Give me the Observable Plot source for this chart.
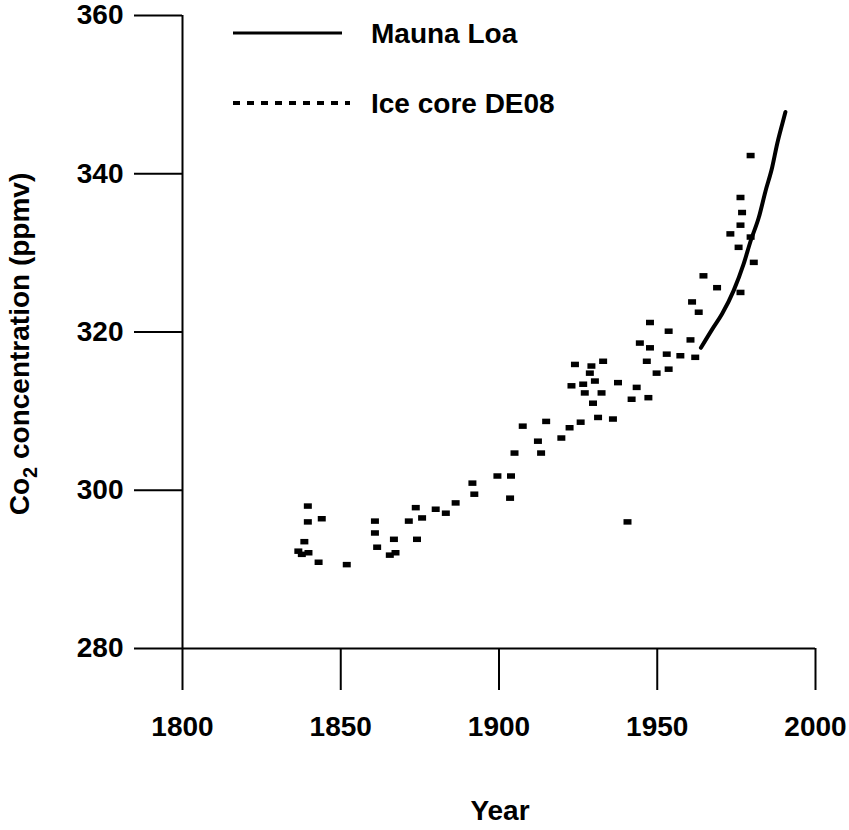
<!DOCTYPE html>
<html>
<head>
<meta charset="utf-8">
<script src="https://cdn.jsdelivr.net/npm/d3@7"></script>
<script src="https://cdn.jsdelivr.net/npm/@observablehq/plot@0.6"></script>
<style>
  html, body { margin: 0; padding: 0; background: #fff; }
  #wrap { position: relative; width: 849px; height: 830px; }
  #wrap svg.plot [aria-label*="axis"] path,
  #wrap svg.plot [aria-label*="axis"] line { stroke-width: 2px; stroke: #000; }
  #legend { position: absolute; left: 0; top: 0; pointer-events: none; }
</style>
</head>
<body>
<div id="wrap"></div>
<script>
// Mauna Loa record (year, ppmv)
const maunaYear = [1963.8, 1967.3, 1970.5, 1974.1, 1977.3, 1979.5, 1982.1, 1984.2, 1986.3, 1987.9, 1989.5, 1990.5];
const maunaPpm  = [318.0, 320.3, 322.3, 325.2, 328.6, 331.5, 334.5, 337.8, 340.8, 343.8, 346.3, 347.8];

// Ice core DE08 samples (year, ppmv)
const iceYear = [1836.6, 1837.7, 1838.5, 1839.6, 1839.6, 1839.8, 1843.0, 1844.0, 1851.9,
  1860.8, 1860.8, 1861.5, 1865.5, 1866.8, 1867.3, 1871.5, 1873.7, 1874.1, 1875.7, 1880.0,
  1883.2, 1886.3, 1891.6, 1892.2, 1899.5, 1903.8, 1903.5, 1904.9, 1907.5, 1912.3, 1913.3,
  1914.9, 1919.7, 1922.3, 1925.8, 1927.1, 1929.7, 1931.3, 1922.9, 1924.0, 1926.6, 1928.7,
  1929.2, 1930.3, 1932.4, 1932.9, 1936.0, 1937.6, 1940.6, 1941.9, 1943.5, 1944.5, 1946.7,
  1947.2, 1947.7, 1947.7, 1949.8, 1953.0, 1953.6, 1953.6, 1957.3, 1960.5, 1961.0, 1962.0,
  1963.1, 1964.6, 1968.9, 1973.1, 1975.7, 1976.3, 1976.8, 1976.3, 1976.3, 1979.5, 1979.5, 1980.5];
const icePpm = [292.3, 291.9, 293.5, 298.0, 296.0, 292.1, 290.9, 296.4, 290.6,
  296.1, 294.6, 292.8, 291.8, 293.8, 292.1, 296.1, 297.8, 293.8, 296.5, 297.6,
  297.1, 298.4, 300.9, 299.5, 301.8, 301.8, 299.0, 304.7, 308.1, 306.2, 304.7,
  308.7, 306.6, 307.9, 308.6, 312.3, 311.0, 309.2, 313.2, 315.9, 313.4, 314.8,
  315.7, 313.8, 312.3, 316.3, 309.0, 313.6, 296.0, 311.5, 313.0, 318.6, 316.3,
  311.7, 321.2, 318.0, 314.8, 317.2, 320.1, 315.3, 317.0, 319.0, 323.8, 316.8,
  322.5, 327.1, 325.6, 332.4, 330.7, 337.0, 335.1, 333.5, 325.0, 332.0, 342.3, 328.8];

const xTicks = [1800, 1850, 1900, 1950, 2000];
const yTicks = [280, 300, 320, 340, 360];
const seriesNames = ["Mauna Loa", "Ice core DE08"];
const xTitle = "Year";

const mauna = maunaYear.map((x, i) => ({year: x, ppm: maunaPpm[i]}));
const ice = iceYear.map((x, i) => ({year: x, ppm: icePpm[i]}));

const dash = { draw(ctx, size) { const w = 8, h = 5.5; ctx.rect(-w / 2, -h / 2, w, h); } };

const chart = Plot.plot({
  width: 849,
  height: 830,
  marginLeft: 182,
  marginRight: 34,
  marginTop: 15,
  marginBottom: 182,
  style: { fontFamily: "'Liberation Sans', Arial, sans-serif", fontSize: "28px", fontWeight: "bold", background: "#fff", color: "#000", overflow: "visible" },
  x: { domain: [1800, 2000], ticks: xTicks, tickFormat: "d", tickSize: 42, tickPadding: 26, label: null },
  y: { domain: [280, 360], ticks: yTicks, tickFormat: "d", tickSize: 48, tickPadding: 11, label: null },
  marks: [
    Plot.ruleX([1800], { stroke: "#000", strokeWidth: 2 }),
    Plot.ruleY([280], { stroke: "#000", strokeWidth: 2 }),
    Plot.dot(ice, { x: "year", y: "ppm", symbol: dash, r: 3, fill: "#000", stroke: "none" }),
    Plot.line(mauna, { x: "year", y: "ppm", stroke: "#000", strokeWidth: 4, curve: "monotone-x" })
  ]
});
chart.classList.add("plot");

const svg = d3.select(chart);
// Axis titles
const yl = svg.append("text")
  .attr("transform", "translate(19,344) rotate(-90)")
  .attr("text-anchor", "middle")
  .attr("dominant-baseline", "central")
  .attr("fill", "#000");
yl.append("tspan").text("Co");
yl.append("tspan").attr("baseline-shift", "sub").attr("font-size", "20px").text("2");
yl.append("tspan").text(" concentration (ppmv)");

svg.append("text")
  .attr("x", 500).attr("y", 820)
  .attr("text-anchor", "middle")
  .attr("fill", "#000")
  .text(xTitle);

document.getElementById("wrap").appendChild(chart);

// Legend overlay
const lg = d3.select("#wrap").append("svg")
  .attr("id", "legend")
  .attr("width", 849).attr("height", 130)
  .style("font-family", "'Liberation Sans', Arial, sans-serif")
  .style("font-size", "28px").style("font-weight", "bold");
lg.append("line").attr("x1", 233).attr("x2", 342).attr("y1", 33).attr("y2", 33)
  .attr("stroke", "#000").attr("stroke-width", 3);
lg.append("line").attr("x1", 233).attr("x2", 350).attr("y1", 103).attr("y2", 103)
  .attr("stroke", "#000").attr("stroke-width", 4).attr("stroke-dasharray", "7 7");
lg.append("text").attr("x", 371).attr("y", 43).text(seriesNames[0]);
lg.append("text").attr("x", 371).attr("y", 113).text(seriesNames[1]);
</script>
</body>
</html>
